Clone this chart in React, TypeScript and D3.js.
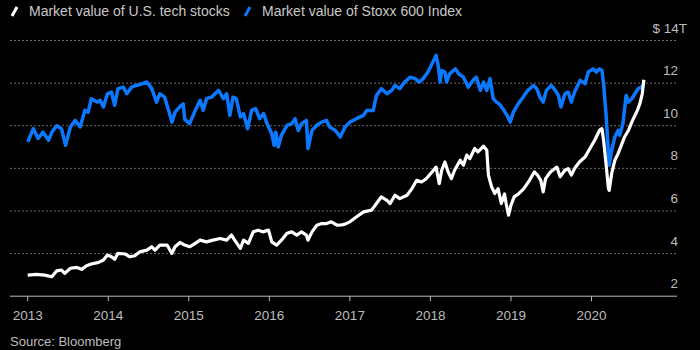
import * as d3 from "d3";

// decimal year, value in $ trillions
const techYears = [
  2013.0, 2013.11, 2013.21, 2013.3, 2013.36, 2013.42, 2013.46, 2013.53, 2013.61, 2013.67, 2013.73, 2013.79, 2013.88, 2013.94, 2013.99,
  2014.04, 2014.08, 2014.12, 2014.21, 2014.27, 2014.33, 2014.39, 2014.48, 2014.54, 2014.58, 2014.64, 2014.73, 2014.79, 2014.83, 2014.89, 2014.95,
  2015.01, 2015.08, 2015.14, 2015.22, 2015.3, 2015.39, 2015.47, 2015.53, 2015.57, 2015.64, 2015.68, 2015.74, 2015.8, 2015.86, 2015.92, 2015.99,
  2016.03, 2016.09, 2016.15, 2016.22, 2016.28, 2016.34, 2016.4, 2016.46, 2016.48, 2016.53, 2016.59, 2016.65, 2016.71, 2016.77, 2016.84, 2016.9, 2016.94,
  2017.0, 2017.08, 2017.17, 2017.27, 2017.33, 2017.39, 2017.46, 2017.5, 2017.56, 2017.62, 2017.71, 2017.77, 2017.83, 2017.89, 2017.95,
  2018.02, 2018.07, 2018.11, 2018.14, 2018.18, 2018.22, 2018.26, 2018.3, 2018.37, 2018.41, 2018.45, 2018.49, 2018.55, 2018.59, 2018.66, 2018.7,
  2018.72, 2018.76, 2018.8, 2018.84, 2018.88, 2018.92, 2018.94, 2018.97,
  2019.0, 2019.04, 2019.1, 2019.16, 2019.23, 2019.29, 2019.33, 2019.37, 2019.4, 2019.43, 2019.49, 2019.57, 2019.61, 2019.67, 2019.71, 2019.75, 2019.79, 2019.85, 2019.92, 2019.98,
  2020.04, 2020.1, 2020.13, 2020.15, 2020.18, 2020.21, 2020.22, 2020.25, 2020.29, 2020.33, 2020.37, 2020.41, 2020.46, 2020.5, 2020.54, 2020.57, 2020.6, 2020.63, 2020.65,
];
const techValues = [
  2.99, 3.02, 2.99, 2.91, 3.19, 3.23, 3.07, 3.31, 3.35, 3.26, 3.43, 3.51, 3.59, 3.7, 3.93,
  3.85, 3.73, 4.01, 3.98, 3.85, 3.9, 4.08, 4.16, 4.32, 4.16, 4.4, 4.4, 4.01, 4.32, 4.52, 4.4,
  4.32, 4.48, 4.63, 4.55, 4.63, 4.71, 4.63, 4.87, 4.63, 4.24, 4.63, 4.48, 5.02, 5.1, 5.02, 5.1,
  4.55, 4.4, 4.63, 4.95, 5.02, 4.87, 5.02, 4.87, 4.63, 5.02, 5.33, 5.41, 5.41, 5.49, 5.33, 5.35, 5.38,
  5.49, 5.72, 5.96, 6.04, 6.35, 6.66, 6.5, 6.35, 6.74, 6.58, 6.74, 7.05, 7.44, 7.36, 7.52,
  7.83, 8.06, 7.28, 7.91, 8.3, 7.83, 7.52, 7.91, 8.38, 8.15, 8.62, 8.46, 8.93, 8.77, 9.04, 8.85,
  7.68, 7.13, 6.82, 7.05, 6.35, 6.8, 6.35, 5.8,
  6.27, 6.66, 6.82, 7.05, 7.44, 7.83, 7.68, 7.44, 6.89, 7.52, 7.83, 8.06, 7.6, 7.91, 7.99, 7.68, 7.99, 8.3, 8.53, 8.93,
  9.32, 9.79, 9.86, 9.32, 8.23, 7.05, 6.97, 7.75, 8.38, 8.69, 9.08, 9.47, 9.79, 10.17, 10.49, 10.72, 11.03, 11.5, 12.16,
];

const stoxxYears = [
  2013.0, 2013.07, 2013.13, 2013.19, 2013.26, 2013.3, 2013.36, 2013.42, 2013.47, 2013.53, 2013.59, 2013.65, 2013.71, 2013.75, 2013.79, 2013.86, 2013.9, 2013.94, 2013.99,
  2014.04, 2014.08, 2014.12, 2014.19, 2014.23, 2014.29, 2014.35, 2014.42, 2014.48, 2014.54, 2014.6, 2014.64, 2014.7, 2014.75, 2014.79, 2014.83, 2014.89, 2014.93, 2014.95,
  2015.01, 2015.08, 2015.14, 2015.18, 2015.22, 2015.28, 2015.37, 2015.43, 2015.47, 2015.51, 2015.55, 2015.59, 2015.64, 2015.68, 2015.73, 2015.78, 2015.83, 2015.88, 2015.93, 2015.97,
  2016.03, 2016.06, 2016.08, 2016.11, 2016.15, 2016.22, 2016.28, 2016.32, 2016.36, 2016.4, 2016.46, 2016.48, 2016.53, 2016.59, 2016.65, 2016.71, 2016.75, 2016.82, 2016.88, 2016.94,
  2017.0, 2017.08, 2017.17, 2017.21, 2017.29, 2017.33, 2017.39, 2017.46, 2017.52, 2017.56, 2017.62, 2017.68, 2017.75, 2017.81, 2017.86, 2017.91, 2017.97,
  2018.04, 2018.07, 2018.1, 2018.12, 2018.14, 2018.18, 2018.2, 2018.24, 2018.31, 2018.35, 2018.41, 2018.47, 2018.53, 2018.57, 2018.62, 2018.66, 2018.7, 2018.74, 2018.78, 2018.82, 2018.86, 2018.9, 2018.95, 2018.99,
  2019.03, 2019.09, 2019.15, 2019.21, 2019.28, 2019.32, 2019.36, 2019.4, 2019.44, 2019.5, 2019.55, 2019.59, 2019.62, 2019.67, 2019.71, 2019.75, 2019.79, 2019.86, 2019.92, 2019.96,
  2020.02, 2020.06, 2020.1, 2020.13, 2020.15, 2020.18, 2020.2, 2020.22, 2020.25, 2020.29, 2020.33, 2020.35, 2020.39, 2020.43, 2020.46, 2020.5, 2020.54, 2020.58, 2020.62, 2020.65,
];
const stoxxValues = [
  9.24, 9.86, 9.4, 9.7, 9.32, 9.7, 10.0, 9.86, 9.08, 9.94, 10.25, 9.94, 10.72, 10.64, 11.27, 11.11, 11.19, 10.88, 11.5,
  11.58, 10.96, 11.74, 11.81, 11.5, 11.81, 11.89, 11.97, 12.05, 11.74, 11.11, 11.5, 11.34, 10.72, 10.17, 10.64, 10.9, 11.03, 10.3,
  10.1, 10.72, 11.19, 10.72, 11.27, 11.34, 11.66, 11.27, 11.5, 10.49, 11.34, 11.27, 10.41, 10.57, 9.86, 10.72, 10.8, 10.33, 10.57, 10.1,
  9.63, 9.08, 9.7, 9.0, 9.55, 10.02, 10.1, 10.33, 9.78, 10.1, 10.25, 8.93, 9.78, 10.02, 10.17, 10.25, 9.94, 9.78, 9.47, 9.94,
  10.17, 10.33, 10.49, 10.72, 10.72, 11.42, 11.74, 11.5, 11.66, 11.89, 11.74, 12.05, 12.28, 12.21, 12.05, 12.21, 12.52,
  13.06, 13.3, 12.75, 12.05, 12.59, 12.52, 12.05, 12.44, 12.67, 12.44, 12.28, 11.81, 12.13, 12.28, 11.66, 12.05, 11.66, 12.21, 11.27, 11.11, 11.0, 10.8, 10.49, 10.17,
  10.64, 11.03, 11.34, 11.66, 11.89, 11.74, 11.34, 11.11, 11.66, 11.89, 11.66, 11.42, 10.88, 11.5, 11.58, 11.11, 11.58, 12.13, 11.97, 12.52,
  12.67, 12.52, 12.67, 12.59, 11.97, 10.57, 9.32, 8.15, 8.85, 9.47, 9.78, 9.55, 10.1, 11.42, 11.11, 11.27, 11.5, 11.74, 11.81, 11.97,
];

const yearTicks = [2013, 2014, 2015, 2016, 2017, 2018, 2019, 2020];
const valueTicks = [2, 4, 6, 8, 10, 12, 14];

const WIDTH = 700;
const HEIGHT = 350;
const FONT = "'Liberation Sans', Arial, sans-serif";
const BLUE = "#0a78ff";

export default function App() {
  const x = d3.scaleLinear().domain([2013, 2020]).range([27.7, 591.5]);
  const y = d3.scaleLinear().domain([2, 14]).range([296.2, 40.5]);

  const line = d3
    .line<[number, number]>()
    .x((d) => x(d[0]))
    .y((d) => y(d[1]));

  const tech = techYears.map((t, i) => [t, techValues[i]] as [number, number]);
  const stoxx = stoxxYears.map((t, i) => [t, stoxxValues[i]] as [number, number]);

  const left = 10;
  const right = 677;

  return (
    <div style={{ position: "fixed", left: 0, top: 0, background: "#000" }}>
      <svg width={WIDTH} height={HEIGHT} style={{ display: "block" }} fontFamily={FONT}>
        <rect width={WIDTH} height={HEIGHT} fill="#000" />

        {/* legend */}
        <line x1={12} y1={16} x2={17} y2={7} stroke="#fff" strokeWidth={3} />
        <text x={29} y={15.5} fontSize={14} fill="#c8c8c8">Market value of U.S. tech stocks</text>
        <line x1={245} y1={16} x2={250} y2={7} stroke={BLUE} strokeWidth={3} />
        <text x={262} y={15.5} fontSize={14} fill="#c8c8c8">Market value of Stoxx 600 Index</text>

        {/* grid */}
        {valueTicks.filter((v) => v > 2).map((v) => (
          <line key={v} x1={left} x2={right} y1={y(v)} y2={y(v)}
            stroke="#6a6a6a" strokeWidth={1} strokeDasharray="2,2" />
        ))}
        <line x1={left} x2={right} y1={y(2)} y2={y(2)} stroke="#bdbdbd" strokeWidth={1} />

        {/* y labels */}
        {valueTicks.map((v) => (
          <text key={v} x={v === 14 ? 687 : 678} y={y(v) - 8} fontSize={13.5} fill="#bdbdbd" textAnchor="end">
            {v === 14 ? "$ 14T" : v}
          </text>
        ))}

        {/* x ticks */}
        {yearTicks.map((t) => (
          <g key={t} transform={`translate(${x(t)},0)`}>
            <line y1={y(2)} y2={y(2) + 5} stroke="#bdbdbd" />
            <text y={320} fontSize={13.5} fill="#bdbdbd" textAnchor="middle">{t}</text>
          </g>
        ))}

        {/* series */}
        <path d={line(stoxx) ?? ""} fill="none" stroke={BLUE} strokeWidth={3.5} strokeLinejoin="round" />
        <path d={line(tech) ?? ""} fill="none" stroke="#fff" strokeWidth={3.2} strokeLinejoin="round" />

        <text x={10} y={346} fontSize={13} fill="#bdbdbd">Source: Bloomberg</text>
      </svg>
    </div>
  );
}
